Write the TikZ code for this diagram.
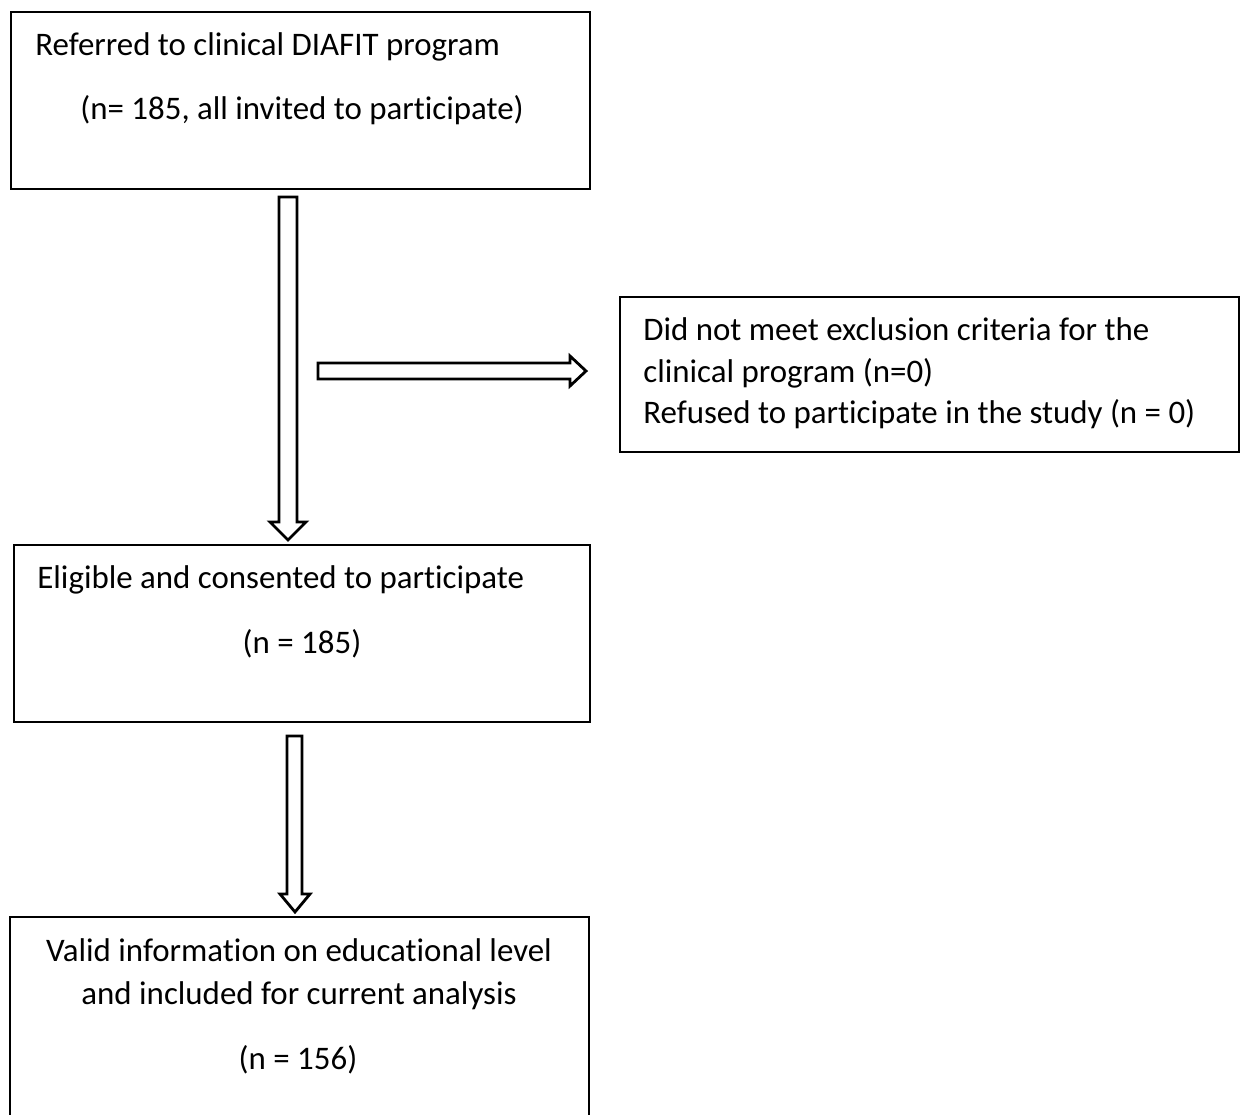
\documentclass[tikz,border=0pt]{standalone}
\usepackage{fontspec}
\setmainfont[Ligatures=CommonOff]{Carlito}
\usetikzlibrary{fit}
\begin{document}
\begin{tikzpicture}[x=0.5pt,y=-0.5pt,
  box/.style={draw=black, line width=1.4pt, inner sep=0pt, fill=white},
  txt/.style={anchor=base west, inner sep=0pt, font=\fontsize{16.45}{19}\selectfont},
  ctxt/.style={anchor=base, inner sep=0pt, font=\fontsize{16.45}{19}\selectfont},
  blockarrow/.style={draw=black, line width=1.4pt, fill=white, line join=miter}]
\useasboundingbox[fill=white] (0,0) rectangle (1244,1115);
\begin{scope}
\clip (0,0) rectangle (1244,1115);
% boxes
\node[box, fit={(11,12) (590,189)}] (b1) {};
\node[box, fit={(620,297) (1239,452)}] (b2) {};
\node[box, fit={(14,545) (590,722)}] (b3) {};
\node[box, fit={(10,917) (589,1130)}] (b4) {};
% texts
\node[txt] (t11) at (35,55) {Referred to clinical DIAFIT program};
\node[txt] (t12) at (80,119) {(n= 185, all invited to participate)};
\node[txt] (t21) at (643,340) {Did not meet exclusion criteria for the};
\node[txt] (t22) at (643,382) {clinical program (n=0)};
\node[txt] (t23) at (643,423) {Refused to participate in the study (n = 0)};
\node[txt] (t31) at (37,588) {Eligible and consented to participate};
\node[ctxt] (t32) at (302,653) {(n = 185)};
\node[ctxt] (t41) at (299,961) {Valid information on educational level};
\node[ctxt] (t42) at (299,1004) {and included for current analysis};
\node[ctxt] (t43) at (298,1069) {(n = 156)};
% block arrows
\draw[blockarrow] (279,197) -- (297,197) -- (297,522) -- (306,522) -- (288,540) -- (270,522) -- (279,522) -- cycle;
\draw[blockarrow] (318,363) -- (570,363) -- (570,356) -- (586,371) -- (570,386) -- (570,379) -- (318,379) -- cycle;
\draw[blockarrow] (287,736) -- (302,736) -- (302,894) -- (310,894) -- (295,912) -- (280,894) -- (287,894) -- cycle;
\end{scope}
\end{tikzpicture}
\end{document}
